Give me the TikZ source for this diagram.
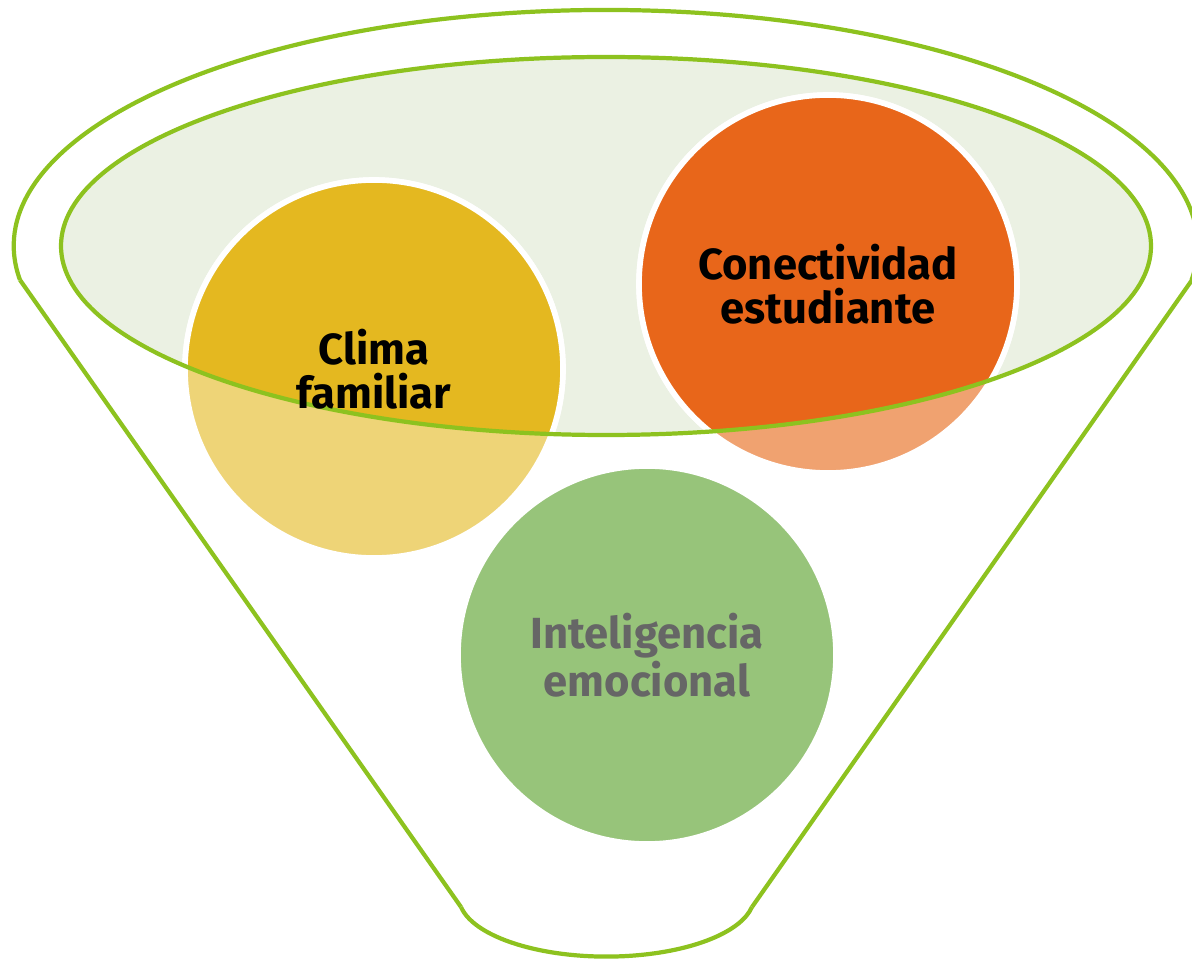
\documentclass[tikz,border=0pt]{standalone}
\usepackage{fontspec}
\setmainfont{Fira Sans}
\usepackage{tikz}

\definecolor{funnelgreen}{HTML}{8DC21F}
\definecolor{lidfill}{HTML}{EBF1E3}
\definecolor{climadark}{HTML}{E4B820}
\definecolor{climalight}{HTML}{EED477}
\definecolor{conedark}{HTML}{E8661A}
\definecolor{conelight}{HTML}{F0A270}
\definecolor{intfill}{HTML}{97C47A}
\definecolor{inttext}{HTML}{666666}

\begin{document}
\begin{tikzpicture}[
  funnel line/.style={draw=funnelgreen, line width=1.2pt},
  ball/.style={draw=white, line width=1.6pt},
  ball text/.style={align=center, font=\bfseries\fontsize{12.4}{12.4}\selectfont},
  ]
  \useasboundingbox (0,0) rectangle (11.92,-9.59);
  \coordinate (lid) at (6.06,-2.46);
  \coordinate (clima) at (3.74,-3.69);
  \coordinate (cone) at (8.28,-2.84);
  \coordinate (intel) at (6.47,-6.55);
  % funnel
  \coordinate (ltop) at (0.20,-2.80);
  \coordinate (rtop) at (11.92,-2.80);
  \coordinate (lbot) at (4.61,-9.07);
  \coordinate (rbot) at (7.52,-9.07);
  \draw[funnel line] (ltop) arc[start angle=188.3, end angle=-8.3, x radius=5.92, y radius=2.36];
  \draw[funnel line] (ltop) -- (lbot);
  \draw[funnel line] (rtop) -- (rbot);
  \draw[funnel line] (lbot) arc[start angle=190, end angle=350, x radius=1.477, y radius=0.6];
  % lid
  \fill[lidfill] (lid) ellipse[x radius=5.45, y radius=1.89];
  \filldraw[ball, fill=climalight] (clima) circle[radius=1.89];
  \filldraw[ball, fill=conelight] (cone) circle[radius=1.89];
  \begin{scope}
    \clip (lid) ellipse[x radius=5.45, y radius=1.89];
    \filldraw[ball, fill=climadark] (clima) circle[radius=1.89];
    \filldraw[ball, fill=conedark] (cone) circle[radius=1.89];
  \end{scope}
  \draw[funnel line] (lid) ellipse[x radius=5.45, y radius=1.89];
  \filldraw[ball, fill=intfill] (intel) circle[radius=1.89];
  % labels
  \node[ball text] (climalbl) at (clima) {Clima\\familiar};
  \node[ball text] (conelbl) at (cone) {Conectividad\\estudiante};
  \node[ball text, text=inttext] (intellbl) at (intel) {Inteligencia\\emocional};
\end{tikzpicture}
\end{document}
